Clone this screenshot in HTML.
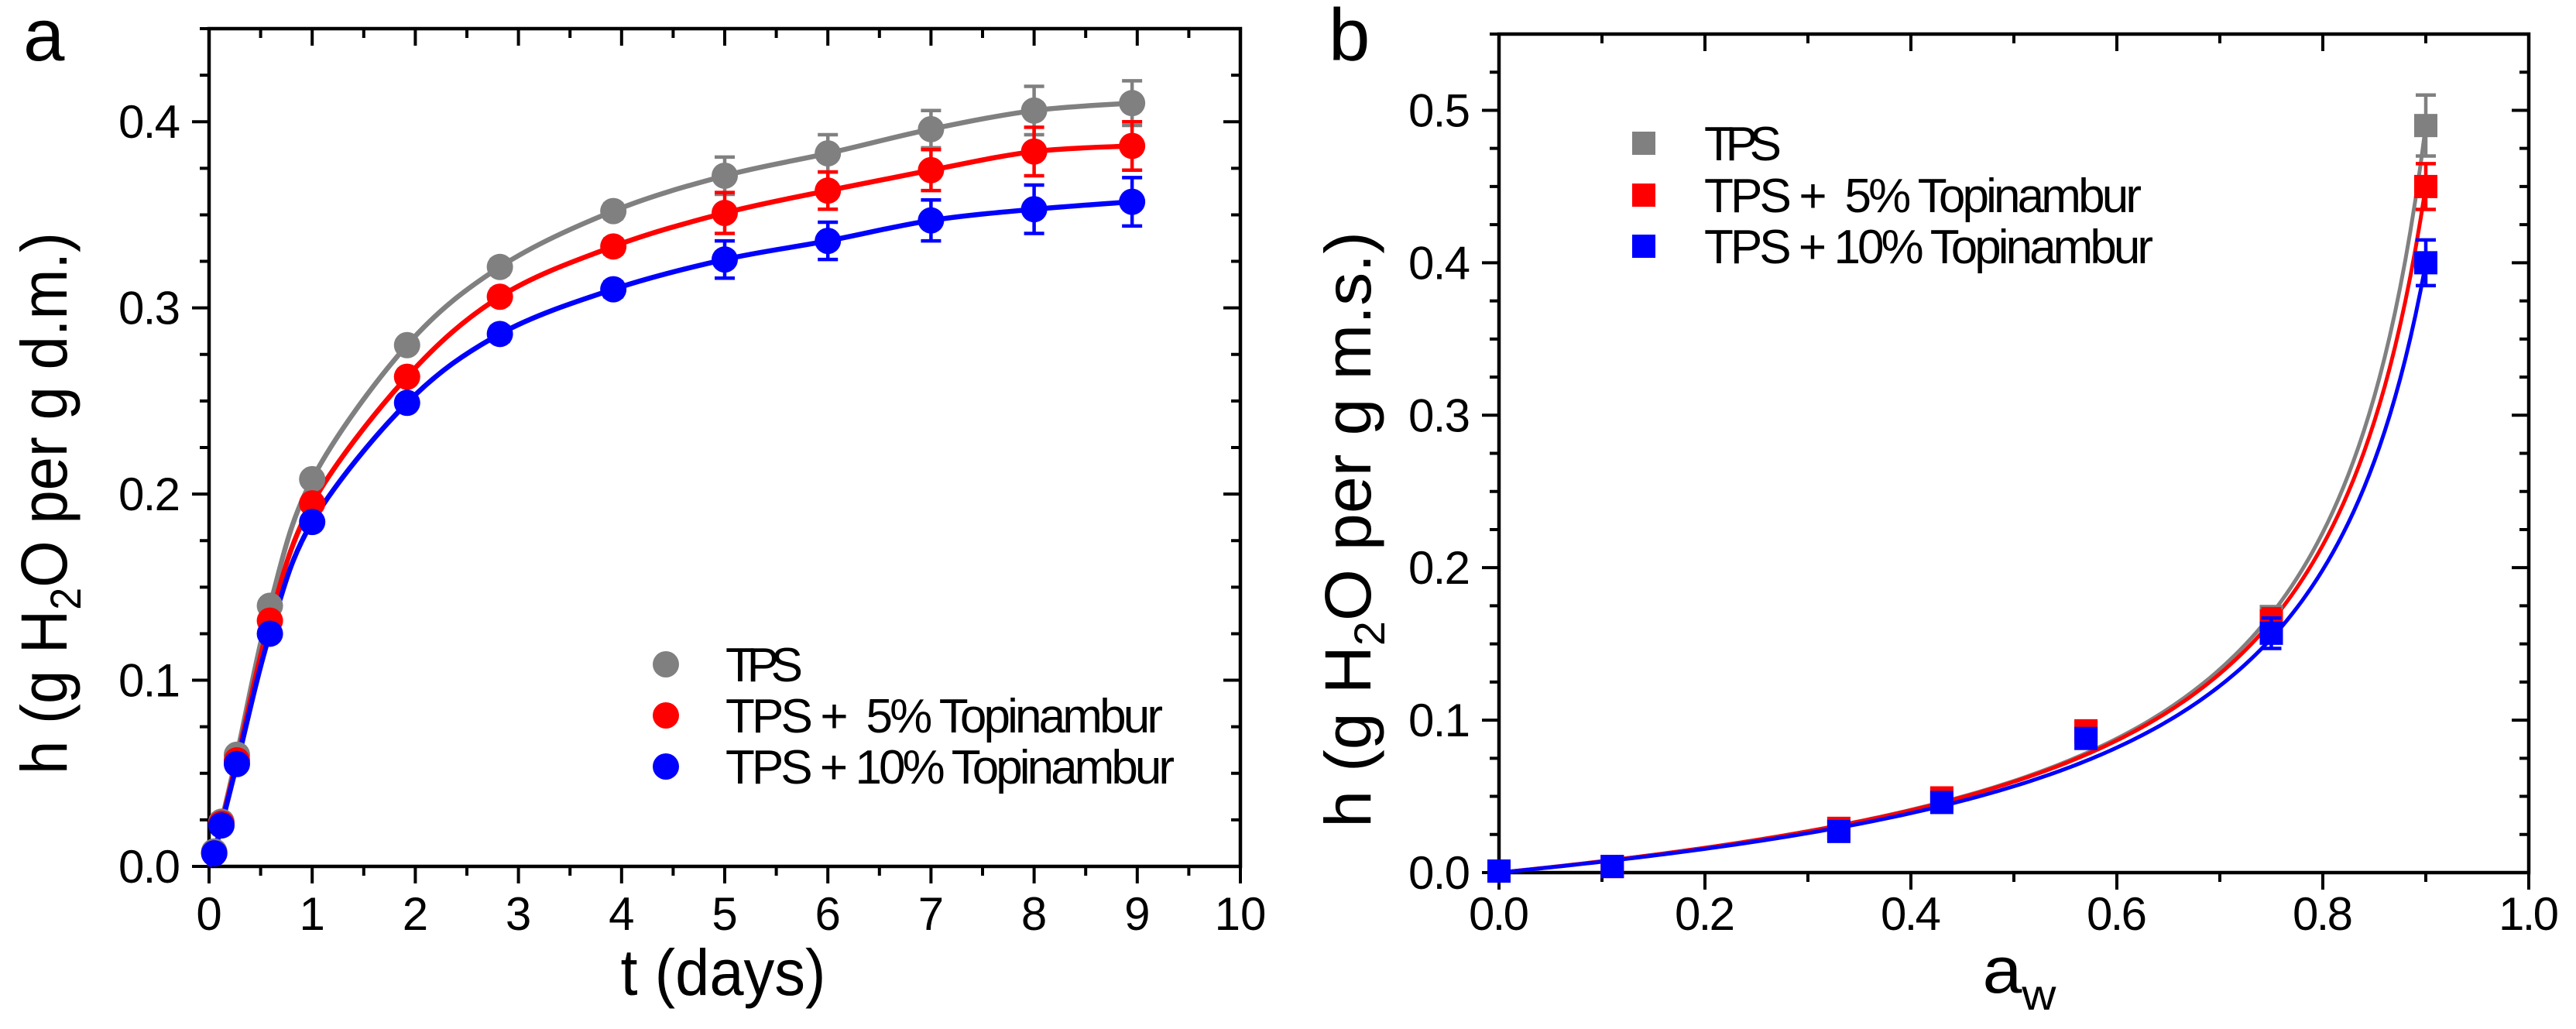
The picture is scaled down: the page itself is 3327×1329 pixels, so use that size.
<!DOCTYPE html>
<html><head><meta charset="utf-8">
<style>
html,body{margin:0;padding:0;background:#fff;}
svg{display:block;}
text{font-family:"Liberation Sans Narrow","Liberation Sans",sans-serif;fill:#000;white-space:pre;}
</style></head>
<body>
<svg id="fig" width="3327" height="1329" viewBox="0 0 3327 1329" xmlns="http://www.w3.org/2000/svg">
<g id="pa"></g>
<g id="pb"></g>
</svg>
<script>
// ---- Panel a data ----
const aTimes = [0.05, 0.12, 0.27, 0.59, 1.0, 1.92, 2.82, 3.92, 5.0, 6.0, 7.0, 8.0, 8.95];
const aTPS   = [0.008, 0.024, 0.060, 0.140, 0.208, 0.280, 0.322, 0.352, 0.371, 0.383, 0.396, 0.406, 0.410];
const aTPS5  = [0.007, 0.023, 0.057, 0.132, 0.195, 0.263, 0.306, 0.333, 0.351, 0.363, 0.374, 0.384, 0.387];
const aTPS10 = [0.007, 0.022, 0.055, 0.125, 0.185, 0.249, 0.286, 0.310, 0.326, 0.336, 0.347, 0.353, 0.357];
const aErrTPS   = [0, 0, 0, 0, 0, 0.003, 0.004, 0.004, 0.010, 0.010, 0.010, 0.013, 0.012];
const aErrTPS5  = [0, 0, 0, 0, 0, 0.003, 0.004, 0.004, 0.011, 0.010, 0.011, 0.013, 0.013];
const aErrTPS10 = [0, 0, 0, 0, 0, 0.003, 0.004, 0.004, 0.010, 0.010, 0.011, 0.013, 0.013];
const aXTicks = ["0","1","2","3","4","5","6","7","8","9","10"];
const aYTicks = ["0.0","0.1","0.2","0.3","0.4"];
// ---- Panel b data ----
const bAw    = [0.0, 0.11, 0.33, 0.43, 0.57, 0.75, 0.90];
const bTPS   = [0.001, 0.004, 0.029, 0.048, 0.092, 0.168, 0.490];
const bTPS5  = [0.001, 0.004, 0.029, 0.049, 0.093, 0.165, 0.450];
const bTPS10 = [0.001, 0.004, 0.027, 0.046, 0.088, 0.157, 0.400];
const bErrTPS   = [0, 0, 0, 0, 0, 0.006, 0.020];
const bErrTPS5  = [0, 0, 0, 0, 0, 0.008, 0.015];
const bErrTPS10 = [0, 0, 0, 0, 0, 0.010, 0.015];
// GAB fit parameters [Wm, C, K]
const bFitTPS   = [0.0532, 1.3, 1.0];
const bFitTPS5  = [0.0537, 1.3, 0.99];
const bFitTPS10 = [0.0520, 1.3, 0.98];
const bXTicks = ["0.0","0.2","0.4","0.6","0.8","1.0"];
const bYTicks = ["0.0","0.1","0.2","0.3","0.4","0.5"];
const seriesNames = ["TPS","TPS +  5% Topinambur","TPS + 10% Topinambur"];
const colors = ["#808080","#ff0000","#0000ff"];

const NS="http://www.w3.org/2000/svg";
function mk(tag, parent, attrs){const e=document.createElementNS(NS,tag);for(const k in attrs)e.setAttribute(k,attrs[k]);parent.appendChild(e);return e;}

function axes(g, L, R, T, B, xmin, xmax, ymin, ymax, xMajor, xMinor, yMajor, yMinor, xLabels, yLabels, prefix){
  const sx=v=>L+(v-xmin)/(xmax-xmin)*(R-L);
  const sy=v=>B-(v-ymin)/(ymax-ymin)*(B-T);
  const frame=mk('rect',g,{x:L,y:T,width:R-L,height:B-T,fill:'none',stroke:'#000','stroke-width':4.5});
  
  
  let d='';
  const nx=Math.round((xmax-xmin)/xMinor);
  for(let i=0;i<=nx;i++){const v=xmin+i*xMinor;const x=sx(v);const maj=Math.abs(v/xMajor-Math.round(v/xMajor))<1e-6;const len=maj?22:12;
    d+=`M${x},${B}v${len}M${x},${T}v${len}`;}
  const ny=Math.round((ymax-ymin)/yMinor);
  for(let i=0;i<=ny;i++){const v=ymin+i*yMinor;const y=sy(v);const maj=Math.abs(v/yMajor-Math.round(v/yMajor))<1e-6;const len=maj?22:12;
    d+=`M${L},${y}h${-len}M${R},${y}h${-len}`;}
  const tk=mk('path',g,{d:d,stroke:'#000','stroke-width':4,fill:'none'});
  
  
  xLabels.forEach((s,i)=>{const t=mk('text',g,{x:sx(xmin+i*xMajor),y:1201,'font-size':60,'text-anchor':'middle'});t.textContent=s;
    
    
    if(s.length>2)t.setAttribute('textLength',s.length===3?78:50);});
  yLabels.forEach((s,i)=>{const t=mk('text',g,{x:L-37,y:sy(ymin+i*yMajor)+21,'font-size':60,'text-anchor':'end',textLength:80});t.textContent=s;
    
    });
  return {sx,sy};
}

function errbar(g,x,y1,y2,col,name){
  const e=mk('path',g,{d:`M${x},${y1}V${y2}M${x-13},${y1}h26M${x-13},${y2}h26`,stroke:col,'stroke-width':4.5,fill:'none'});
  
  
}

function catmull(pts){
  let d=`M${pts[0][0]},${pts[0][1]}`;
  for(let i=0;i<pts.length-1;i++){
    const p0=pts[Math.max(0,i-1)],p1=pts[i],p2=pts[i+1],p3=pts[Math.min(pts.length-1,i+2)];
    const c1=[p1[0]+(p2[0]-p0[0])/6,p1[1]+(p2[1]-p0[1])/6];
    const c2=[p2[0]-(p3[0]-p1[0])/6,p2[1]-(p3[1]-p1[1])/6];
    d+=`C${c1[0]},${c1[1]} ${c2[0]},${c2[1]} ${p2[0]},${p2[1]}`;
  }
  return d;
}

function scaleText(t,target,cx,cy,rot){
  const w=t.getComputedTextLength();const s=target/w;
  t.setAttribute('transform',`translate(${cx},${cy}) rotate(${rot}) scale(${s},1)`);
}

// ===== Panel a =====
(function(){
  const g=document.getElementById('pa');
  const A=axes(g,270,1602,37,1119,0,10,0,0.45,1,0.5,0.1,0.025,aXTicks,aYTicks,'panel-a');
  const ys=[aTPS,aTPS5,aTPS10], es=[aErrTPS,aErrTPS5,aErrTPS10];
  ys.forEach((arr,k)=>{
    const pts=[[A.sx(0),A.sy(0)]].concat(aTimes.map((t,i)=>[A.sx(t),A.sy(arr[i])]));
    const c=mk('path',g,{d:catmull(pts),stroke:colors[k],'stroke-width':6.5,fill:'none'});
    
    
  });
  ys.forEach((arr,k)=>{
    aTimes.forEach((t,i)=>{
      if(es[k][i]>0) errbar(g,A.sx(t),A.sy(arr[i]+es[k][i]),A.sy(arr[i]-es[k][i]),colors[k],'panel-a-error-bar');
      const c=mk('circle',g,{cx:A.sx(t),cy:A.sy(arr[i]),r:17,fill:colors[k]});
      
      
    });
  });
  const ly=[858,924,990];
  seriesNames.forEach((s,k)=>{
    const c=mk('circle',g,{cx:860,cy:ly[k],r:17,fill:colors[k]});
    
    
    const t=mk('text',g,{x:937,y:ly[k]+22,'font-size':62});t.textContent=s;
    
    
    t.setAttribute('textLength',k===0?100:(k===1?565:580));
  });
  const lab=mk('text',g,{x:30,y:78,'font-size':96,'font-family':'Liberation Sans, sans-serif'});lab.textContent='a';
  
  
  const xt=mk('text',g,{x:0,y:0,'font-size':84,'text-anchor':'middle'});xt.textContent='t (days)';
  
  
  scaleText(xt,265,934,1285,0);
  const yt=mk('text',g,{x:0,y:0,'font-size':84,'text-anchor':'middle'});
  yt.innerHTML='h (g H<tspan font-size="56" dy="18">2</tspan><tspan dy="-18">O per g d.m.)</tspan>';
  
  
  scaleText(yt,700,86,650,-90);
})();

// ===== Panel b =====
(function(){
  const g=document.getElementById('pb');
  const B=axes(g,1936,3266,44,1127,0,1,0,0.55,0.2,0.1,0.1,0.025,bXTicks,bYTicks,'panel-b');
  const ys=[bTPS,bTPS5,bTPS10], es=[bErrTPS,bErrTPS5,bErrTPS10], fits=[bFitTPS,bFitTPS5,bFitTPS10];
  fits.forEach((p,k)=>{
    const [Wm,C,K]=p;let d='';
    for(let i=0;i<=180;i++){const a=i*0.9/180;const ka=K*a;const h=Wm*C*ka/((1-ka)*(1-ka+C*ka));
      d+=(i?'L':'M')+B.sx(a)+','+B.sy(h);}
    const c=mk('path',g,{d:d,stroke:colors[k],'stroke-width':5,fill:'none'});
    
    
  });
  ys.forEach((arr,k)=>{
    bAw.forEach((a,i)=>{
      if(es[k][i]>0) errbar(g,B.sx(a),B.sy(arr[i]+es[k][i]),B.sy(arr[i]-es[k][i]),colors[k],'panel-b-error-bar');
      const r=mk('rect',g,{x:B.sx(a)-15,y:B.sy(arr[i])-15,width:30,height:30,fill:colors[k]});
      
      
    });
  });
  const ly=[185,252,318];
  seriesNames.forEach((s,k)=>{
    const r=mk('rect',g,{x:2108,y:ly[k]-15,width:30,height:30,fill:colors[k]});
    
    
    const t=mk('text',g,{x:2201,y:ly[k]+22,'font-size':62});t.textContent=s;
    
    
    t.setAttribute('textLength',k===0?100:(k===1?565:580));
  });
  const lab=mk('text',g,{x:1716,y:78,'font-size':96,'font-family':'Liberation Sans, sans-serif'});lab.textContent='b';
  
  
  const xt=mk('text',g,{x:0,y:0,'font-size':84,'text-anchor':'middle'});
  xt.innerHTML='a<tspan font-size="56" dy="22">w</tspan>';
  
  
  scaleText(xt,95,2608,1282,0);
  const yt=mk('text',g,{x:0,y:0,'font-size':84,'text-anchor':'middle'});
  yt.innerHTML='h (g H<tspan font-size="56" dy="18">2</tspan><tspan dy="-18">O per g m.s.)</tspan>';
  
  
  scaleText(yt,770,1770,684,-90);
})();
</script>
</body></html>
